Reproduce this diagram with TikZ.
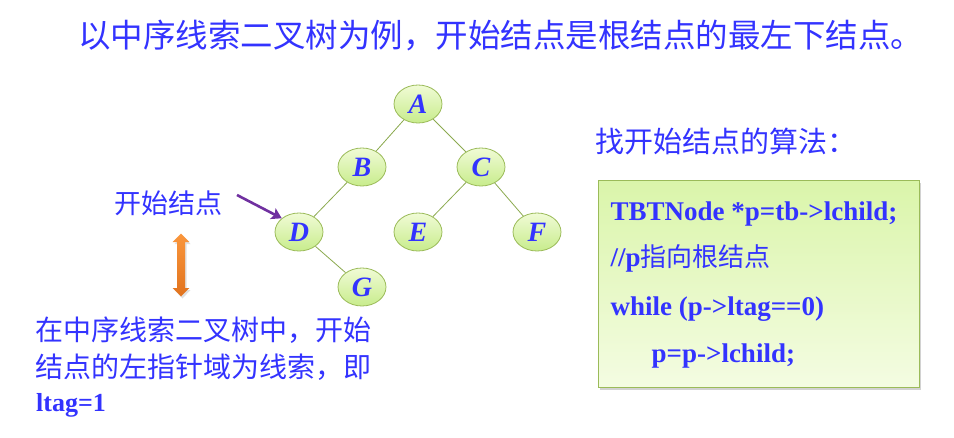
\documentclass[tikz,border=0pt]{standalone}
\usepackage{fontspec}
\setmainfont{Liberation Serif}
\newfontfamily\cjk{Noto Sans CJK SC}
\usetikzlibrary{shapes.geometric,arrows.meta,shadows}
\definecolor{txtblue}{RGB}{51,51,255}
\definecolor{nodeborder}{RGB}{155,187,89}
\definecolor{edgegreen}{RGB}{140,170,80}
\definecolor{purplearrow}{RGB}{112,48,160}
\begin{document}
\begin{tikzpicture}[x=1pt,y=-1pt,
  tnode/.style={ellipse, draw=nodeborder, line width=0.8pt, minimum width=48pt, minimum height=38pt, inner sep=0pt,
    top color={rgb,255:red,240;green,251;blue,214}, bottom color={rgb,255:red,200;green,236;blue,140},
    font=\fontsize{28}{28}\selectfont\bfseries\itshape, text=txtblue},
  tedge/.style={draw=edgegreen, line width=0.8pt},
  cjktext/.style={text=txtblue, inner sep=0pt, anchor=west},
  codetext/.style={text=txtblue, inner sep=0pt, anchor=base west, font=\fontsize{27}{27}\selectfont\bfseries}
]
\useasboundingbox (0,0) rectangle (954,437);
\fill[white] (0,0) rectangle (954,437);

% title
\node[cjktext, font=\cjk\fontsize{32.5}{32.5}\selectfont] (title) at (78,36) {以中序线索二叉树为例，开始结点是根结点的最左下结点。};

% tree
\node[tnode] (A) at (418,104) {A};
\node[tnode] (B) at (362,167) {B};
\node[tnode] (C) at (481,167) {C};
\node[tnode] (D) at (299,232) {D};
\node[tnode] (E) at (418,232) {E};
\node[tnode] (F) at (537,232) {F};
\node[tnode] (G) at (362,287) {G};
\draw[tedge] (A) -- (B);
\draw[tedge] (A) -- (C);
\draw[tedge] (B) -- (D);
\draw[tedge] (C) -- (E);
\draw[tedge] (C) -- (F);
\draw[tedge] (D) -- (G);

% start node label
\node[cjktext, font=\cjk\fontsize{27}{27}\selectfont] (startlbl) at (114,203) {开始结点};
\coordinate (arrstart) at (237,195);
\draw[purplearrow, line width=2.6pt, -{Stealth[length=10pt,width=12pt,inset=2pt]}] (arrstart) -- (D.north west);

% orange double arrow
\fill[black, opacity=0.12] (182.5,235.5) -- (190.5,244) -- (186.5,244) -- (186.5,290) -- (190.5,290) -- (182.5,298.5) -- (174.5,290) -- (178.5,290) -- (178.5,244) -- (174.5,244) -- cycle;
\shade[top color={rgb,255:red,250;green,150;blue,60}, bottom color={rgb,255:red,225;green,115;blue,30}]
  (181,233.5) -- (189.3,242) -- (185,242) -- (185,288) -- (189.3,288) -- (181,296.5) -- (172.7,288) -- (177,288) -- (177,242) -- (172.7,242) -- cycle;

% bottom-left text
\node[cjktext, font=\cjk\fontsize{28}{28}\selectfont] (note1) at (35,330) {在中序线索二叉树中，开始};
\node[cjktext, font=\cjk\fontsize{28}{28}\selectfont] (note2) at (35,367) {结点的左指针域为线索，即};
\node[text=txtblue, inner sep=0pt, anchor=base west, font=\fontsize{26}{26}\selectfont\bfseries] (note3) at (36,411) {ltag=1};

% algorithm
\node[cjktext, font=\cjk\fontsize{29}{29}\selectfont] (algtitle) at (595,141) {找开始结点的算法：};
\node[draw=nodeborder, line width=1pt, minimum width=321pt, minimum height=207pt, anchor=north west, inner sep=0pt,
  top color={rgb,255:red,218;green,245;blue,170}, bottom color={rgb,255:red,244;green,252;blue,226},
  drop shadow={shadow xshift=2pt, shadow yshift=-3pt, opacity=0.35}] (box) at (597.5,179.5) {};
\node[codetext] (l1) at (610.5,220) {TBTNode *p=tb->lchild;};
\node[codetext] (l2) at (610.5,266) {//p{\cjk\mdseries\fontsize{26}{26}\selectfont 指向根结点}};
\node[codetext] (l3) at (610.5,315) {while (p->ltag==0)};
\node[codetext] (l4) at (651.5,362) {p=p->lchild;};
\end{tikzpicture}
\end{document}
